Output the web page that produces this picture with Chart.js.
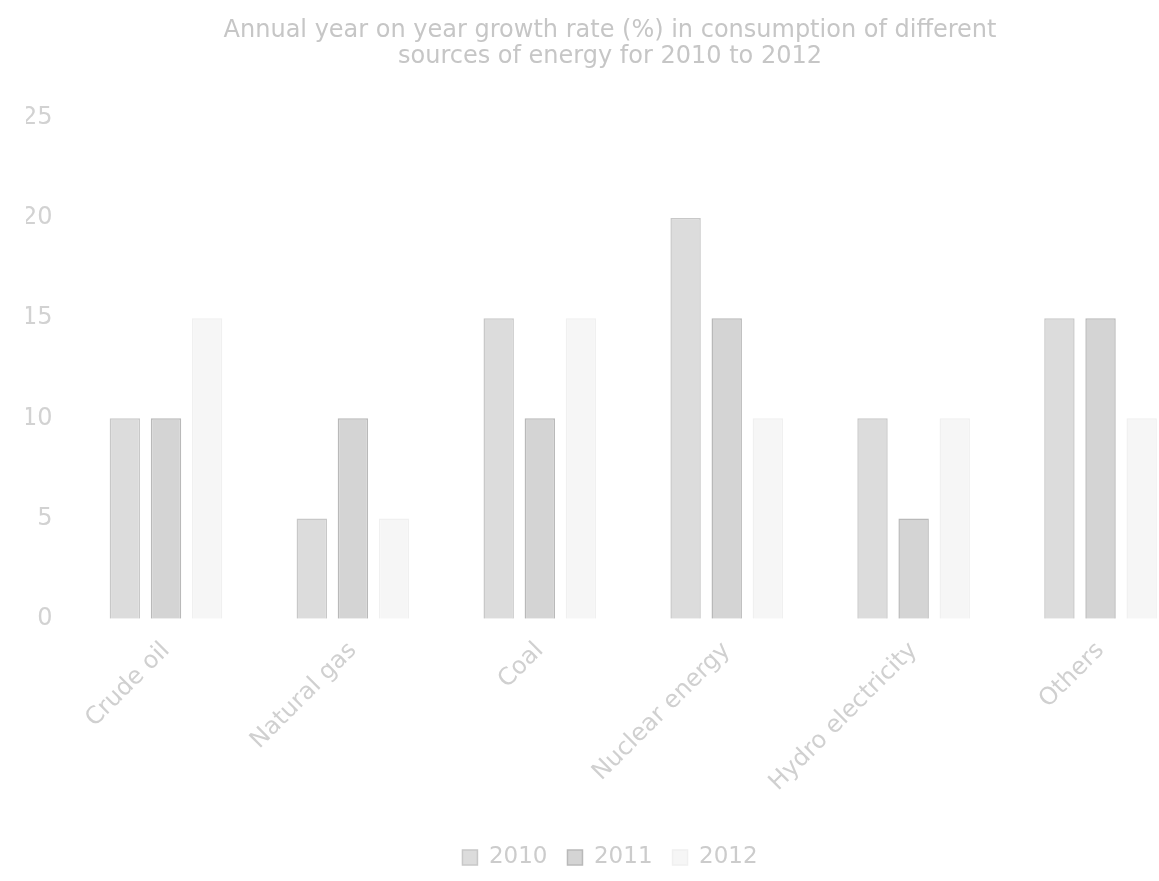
<!DOCTYPE html>
<html>
<head>
<meta charset="utf-8">
<script src="https://cdn.jsdelivr.net/npm/chart.js@4"></script>
<style>
    body { margin: 0; background: #fff; overflow: hidden; }
    #wrap { width: 1220px; height: 881px; }
</style>
</head>
<body>
<div id="wrap"><canvas id="energyChart"></canvas></div>
<script>
const categories = ['Crude oil', 'Natural gas', 'Coal', 'Nuclear energy', 'Hydro electricity', 'Others'];
const years = ['2010', '2011', '2012'];
const values2010 = [10, 5, 15, 20, 10, 15];
const values2011 = [10, 10, 10, 15, 5, 15];
const values2012 = [15, 5, 15, 10, 10, 10];
const yTicks = [0, 5, 10, 15, 20, 25];

const ctx = document.getElementById('energyChart').getContext('2d');

new Chart(ctx, {
    type: 'bar',
    data: {
        labels: categories,
        datasets: [
            { label: years[0], data: values2010, backgroundColor: '#dcdcdc', borderColor: '#c8c8c8', borderWidth: 1.5 },
            { label: years[1], data: values2011, backgroundColor: '#d4d4d4', borderColor: '#b9b9b9', borderWidth: 1.5 },
            { label: years[2], data: values2012, backgroundColor: '#f6f6f6', borderColor: '#f0f0f0', borderWidth: 1.5 }
        ]
    },
    options: {
        responsive: true,
        maintainAspectRatio: false,
        animation: false,
        devicePixelRatio: 1,
        layout: { padding: { left: 26, right: 26, top: 8, bottom: 2 } },
        datasets: { bar: { categoryPercentage: 0.66, barPercentage: 0.74 } },
        plugins: {
            title: {
                display: true,
                text: ['Annual year on year growth rate (%) in consumption of different',
                       'sources of energy for 2010 to 2012'],
                color: '#c6c6c6',
                font: { family: 'DejaVu Sans', size: 24, weight: 'normal', lineHeight: 1.08 },
                padding: { top: 10, bottom: 48 }
            },
            legend: {
                position: 'bottom',
                labels: {
                    color: '#cccccc',
                    font: { family: 'DejaVu Sans', size: 23 },
                    boxWidth: 15,
                    boxHeight: 15,
                    padding: 20
                }
            },
            tooltip: { enabled: false }
        },
        scales: {
            x: {
                grid: { display: false, drawTicks: false },
                border: { display: false },
                afterFit: scale => { scale.height += 11; },
                ticks: {
                    color: '#d0d0d0',
                    font: { family: 'DejaVu Sans', size: 24 },
                    maxRotation: 45,
                    minRotation: 45,
                    padding: 18
                }
            },
            y: {
                min: yTicks[0],
                max: yTicks[yTicks.length - 1],
                grid: { display: false, drawTicks: false },
                border: { display: false },
                afterBuildTicks: axis => { axis.ticks = yTicks.map(v => ({ value: v })); },
                afterFit: scale => { scale.width -= 24; },
                ticks: {
                    color: '#d2d2d2',
                    font: { family: 'DejaVu Sans', size: 24 },
                    padding: 20
                }
            }
        }
    }
});
</script>
</body>
</html>
